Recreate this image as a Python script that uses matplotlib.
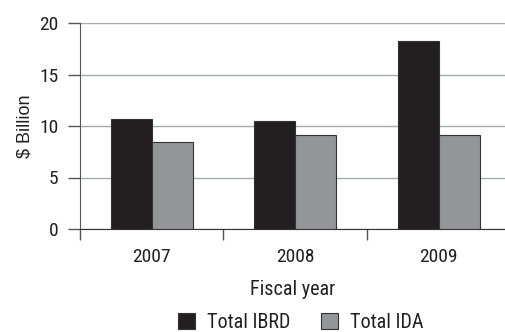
import matplotlib
matplotlib.use("Agg")
import matplotlib.pyplot as plt
import numpy as np

plt.rcParams['font.family'] = ['Roboto Condensed', 'DejaVu Sans']

# data ($ billion)
years = ['2007', '2008', '2009']
ibrd = [10.7, 10.5, 18.3]
ida = [8.4, 9.1, 9.1]
series_names = ['Total IBRD', 'Total IDA']

fig = plt.figure(figsize=(5.06, 3.32), dpi=100)
ax = fig.add_axes([80/506, 1-229/332, 1-80/506, 206/332])

x = np.arange(len(years))
w = 0.286
ax.bar(x - w, ibrd, w, align='edge', color='#231f20', edgecolor='#333333', linewidth=0.8, label=series_names[0], zorder=3)
ax.bar(x, ida, w, align='edge', color='#939598', edgecolor='#333333', linewidth=0.8, label=series_names[1], zorder=3)

ax.set_ylim(0, 20)
ax.set_xlim(-0.5, 2.47)
ax.set_yticks([0, 5, 10, 15, 20])
ax.yaxis.grid(True, color='#a7a9ac', linewidth=1.0, zorder=0)
ax.set_axisbelow(True)

ax.set_xticks(x)
ax.set_xticklabels(years)
ax.set_xticks([-0.5, 0.5, 1.5], minor=True)
ax.tick_params(axis='x', which='major', length=0, pad=13.5, labelsize=14, labelcolor='#231f20')
ax.tick_params(axis='x', which='minor', length=8, width=1, color='#555555', direction='out')
ax.tick_params(axis='y', length=8.5, width=1, color='#555555', labelsize=14, pad=7, labelcolor='#231f20')

for s in ['top', 'right']:
    ax.spines[s].set_visible(False)
ax.spines['left'].set_color('#555555')
ax.spines['bottom'].set_color('#333333')

ax.set_ylabel('$ Billion', fontsize=13, labelpad=4, color='#231f20', family=['Liberation Sans', 'DejaVu Sans'])
ax.set_xlabel('Fiscal year', fontsize=14.5, labelpad=10.5, color='#231f20')

handles, labels = ax.get_legend_handles_labels()
fig.legend(handles, labels, loc='center', bbox_to_anchor=(301/506, 1-322.5/332), ncol=2,
           frameon=False, fontsize=14.5, handlelength=0.85, handleheight=0.85,
           columnspacing=1.5, handletextpad=0.6, borderaxespad=0, labelcolor='#231f20')

fig.savefig('out.png', dpi=100)
